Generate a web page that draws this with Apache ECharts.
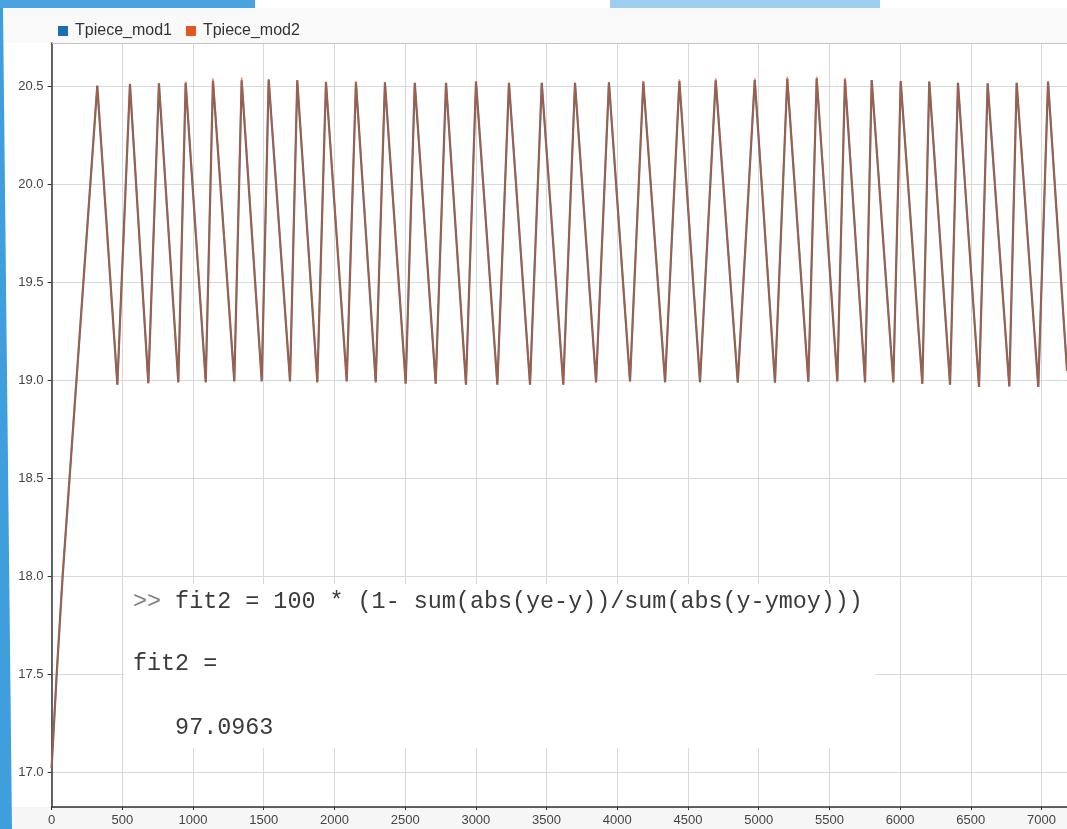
<!DOCTYPE html>
<html>
<head>
<meta charset="utf-8">
<script src="https://cdn.jsdelivr.net/npm/echarts@6/dist/echarts.min.js"></script>
<style>
html,body{margin:0;padding:0;background:#fff;}
#chart{width:1067px;height:829px;}
</style>
</head>
<body>
<div id="chart"></div>
<script>
// ---- data ----
const seriesNames = ['Tpiece_mod1', 'Tpiece_mod2'];
const times = [0, 36, 78, 323, 465, 554, 684, 759, 896, 948, 1090, 1141, 1292, 1344, 1486, 1535, 1686, 1737, 1879, 1940, 2087, 2152, 2292, 2357, 2504, 2568, 2716, 2789, 2930, 3001, 3152, 3234, 3383, 3466, 3618, 3701, 3850, 3941, 4090, 4184, 4338, 4439, 4585, 4696, 4852, 4972, 5115, 5202, 5351, 5410, 5556, 5610, 5752, 5799, 5952, 6004, 6157, 6206, 6353, 6409, 6558, 6619, 6772, 6824, 6977, 7046, 7180];
const mod2 = [17.02, 17.5, 18.0, 20.505, 18.978, 20.514, 18.986, 20.517, 18.990, 20.526, 18.990, 20.543, 18.995, 20.548, 18.995, 20.538, 18.995, 20.534, 18.990, 20.526, 18.995, 20.529, 18.990, 20.522, 18.983, 20.520, 18.983, 20.520, 18.978, 20.526, 18.978, 20.520, 18.978, 20.520, 18.978, 20.520, 18.990, 20.522, 18.995, 20.526, 18.995, 20.538, 19.000, 20.543, 18.995, 20.543, 18.995, 20.551, 18.995, 20.551, 18.995, 20.546, 18.990, 20.534, 18.990, 20.529, 18.983, 20.526, 18.978, 20.520, 18.966, 20.517, 18.969, 20.520, 18.966, 20.526, 19.05];
const mod1 = [17.02, 17.5, 18.0, 20.505, 18.978, 20.514, 18.986, 20.517, 18.990, 20.520, 18.990, 20.530, 18.995, 20.532, 18.995, 20.536, 18.995, 20.532, 18.990, 20.524, 18.995, 20.522, 18.990, 20.522, 18.983, 20.520, 18.983, 20.520, 18.978, 20.526, 18.978, 20.520, 18.978, 20.520, 18.978, 20.520, 18.990, 20.522, 18.995, 20.526, 18.990, 20.528, 18.990, 20.532, 18.988, 20.534, 18.988, 20.540, 18.993, 20.542, 18.995, 20.538, 18.990, 20.534, 18.990, 20.529, 18.983, 20.526, 18.978, 20.520, 18.966, 20.517, 18.969, 20.520, 18.966, 20.526, 19.05];
const xTicks = [0, 500, 1000, 1500, 2000, 2500, 3000, 3500, 4000, 4500, 5000, 5500, 6000, 6500, 7000];
const yTicks = [17.0, 17.5, 18.0, 18.5, 19.0, 19.5, 20.0, 20.5];
const consoleLines = ['>> fit2 = 100 * (1- sum(abs(ye-y))/sum(abs(y-ymoy)))', 'fit2 =', '   97.0963'];

const pair = (ys) => times.map((t, i) => [t, ys[i]]);
const monoFont = '23.4px "Liberation Mono", "Courier New", monospace';

const chart = echarts.init(document.getElementById('chart'), null, {renderer: 'canvas'});
const option = {
  backgroundColor: '#ffffff',
  animation: false,
  legend: {
    left: 53, top: 18,
    icon: 'rect', itemWidth: 10, itemHeight: 10, itemGap: 14,
    textStyle: {fontFamily: 'Liberation Sans, Arial', fontSize: 16, color: '#333', padding: [0, 0, 0, 2]},
    data: seriesNames
  },
  grid: {left: 51.6, right: 0, top: 43, bottom: 22, containLabel: false, show: false},
  xAxis: {
    type: 'value', min: 0, max: 7180, interval: 500,
    axisLine: {show: true, lineStyle: {color: '#333', width: 1.5}},
    axisTick: {show: true, length: 3, lineStyle: {color: '#333'}},
    axisLabel: {fontFamily: 'Liberation Sans, Arial', fontSize: 13, color: '#444', margin: 7,
      showMaxLabel: false,
      formatter: (v) => xTicks.includes(v) ? String(v) : ''},
    splitLine: {show: true, lineStyle: {color: '#d9d9d9', width: 1}}
  },
  yAxis: {
    type: 'value', min: 16.821, max: 20.723, splitNumber: 8,
    axisLine: {show: true, lineStyle: {color: '#333', width: 1.5}},
    axisTick: {show: true, length: 4, lineStyle: {color: '#333'}},
    axisLabel: {fontFamily: 'Liberation Sans, Arial', fontSize: 13, color: '#444', margin: 8,
      showMinLabel: false, showMaxLabel: false,
      formatter: (v) => yTicks.some(t => Math.abs(t - v) < 1e-6) ? v.toFixed(1) : ''},
    splitLine: {show: true, lineStyle: {color: '#d9d9d9', width: 1}}
  },
  series: [
    {
      name: seriesNames[0], type: 'line', showSymbol: false, symbol: 'none',
      itemStyle: {color: '#1b6db5'},
      lineStyle: {color: '#5a6d80', width: 2.2},
      data: pair(mod1), z: 3
    },
    {
      name: seriesNames[1], type: 'line', showSymbol: false, symbol: 'none',
      itemStyle: {color: '#e0581f'},
      lineStyle: {color: '#d9531e', width: 1.6, opacity: 0.6},
      data: pair(mod2), z: 4
    }
  ],
  graphic: [
    // slide decorations around the screenshot
    {type: 'rect', silent: true, z: 0, shape: {x: 0, y: 8, width: 1067, height: 35}, style: {fill: '#f9f9f9'}},
    {type: 'line', silent: true, z: 1, shape: {x1: 52, y1: 43.5, x2: 1067, y2: 43.5}, style: {stroke: '#c4c4c4', lineWidth: 1}},
    {type: 'rect', silent: true, z: 0, shape: {x: 0, y: 807, width: 1067, height: 22}, style: {fill: '#f6f6f6'}},
    {type: 'rect', silent: true, z: 100, shape: {x: 0, y: 0, width: 255, height: 8}, style: {fill: '#4aa3de'}},
    {type: 'rect', silent: true, z: 100, shape: {x: 610, y: 0, width: 270, height: 8}, style: {fill: '#9ccfee'}},
    {type: 'polygon', silent: true, z: 100, shape: {points: [[0, 8], [3, 8], [12, 829], [0, 829]]}, style: {fill: '#3f9fdd'}},
    // console output pasted on the plot
    {type: 'rect', silent: true, z: 5, shape: {x: 124, y: 584, width: 751, height: 164}, style: {fill: '#ffffff'}},
    {type: 'text', silent: true, z: 6, x: 133, y: 602,
      style: {text: '{p|>>}' + consoleLines[0].slice(2), font: monoFont, fill: '#3a3a3a', textVerticalAlign: 'middle',
        rich: {p: {fill: '#808080', font: monoFont}}}},
    {type: 'text', silent: true, z: 6, x: 133, y: 664,
      style: {text: consoleLines[1], font: monoFont, fill: '#3a3a3a', textVerticalAlign: 'middle'}},
    {type: 'text', silent: true, z: 6, x: 133, y: 728,
      style: {text: consoleLines[2], font: monoFont, fill: '#3a3a3a', textVerticalAlign: 'middle'}}
  ]
};
chart.setOption(option);
</script>
</body>
</html>
